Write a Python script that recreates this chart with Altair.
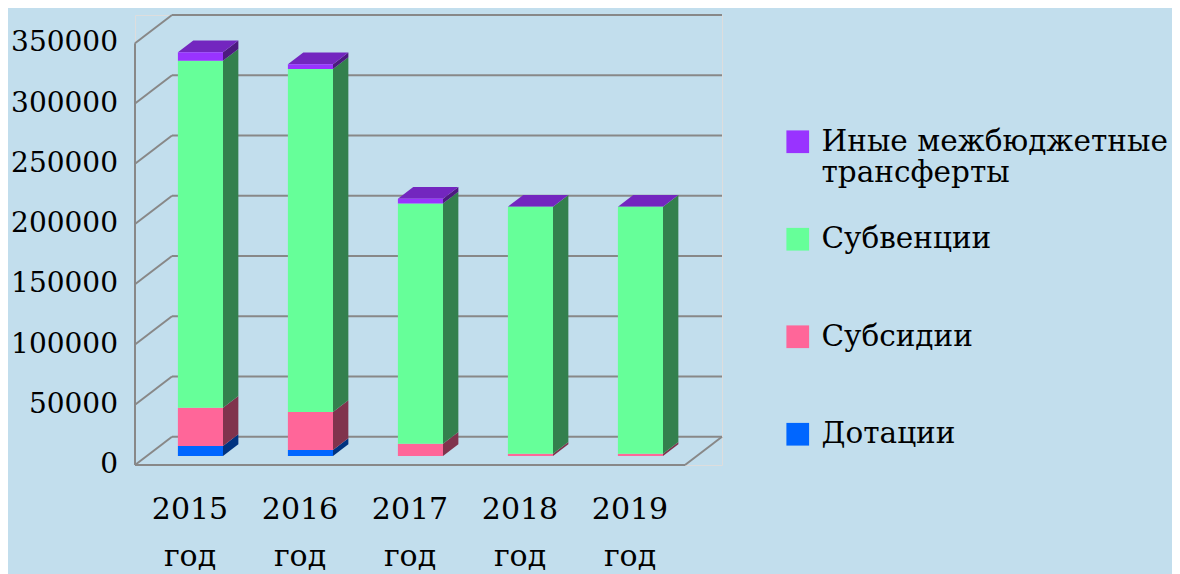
import altair as alt
import pandas as pd

# ---------------- data ----------------
years = ["2015", "2016", "2017", "2018", "2019"]
year_word = "год"
series = ["Иные межбюджетные трансферты", "Субвенции", "Субсидии", "Дотации"]
dotacii = [8300, 5000, 0, 0, 0]
subsidii = [31800, 31500, 10200, 1900, 1900]
subvencii = [288000, 284700, 199300, 205000, 205000]
inye = [7000, 3900, 3900, 0, 0]
y_ticks = [0, 50000, 100000, 150000, 200000, 250000, 300000, 350000]

# ---------------- style ----------------
front_colors = ["#9933FF", "#66FF99", "#FF6699", "#0066FF"]
side_colors = ["#4D1A80", "#33804D", "#80334D", "#003380"]
top_color = "#7326BF"
grid_color = "#888888"
FONT = "DejaVu Serif"

SLOT_PX = 110
DEPTH_X = 37 / SLOT_PX      # depth of the 3D box in slot units
DEPTH_Y = 23500             # depth of the 3D box in value units
FRONT_F = 0.32              # bar front face depth (fraction of box depth)
BAR_B = 0.415               # bar depth (fraction of box depth)
BAR_L, BAR_R = 0.39, 0.80   # bar front face within its slot
N = len(years)
X_MAX = N + DEPTH_X
Y_MAX = y_ticks[-1] + DEPTH_Y
W = round(X_MAX * SLOT_PX)
H = 450

xs = alt.Scale(domain=[0, X_MAX], nice=False, zero=False)
ys = alt.Scale(domain=[0, Y_MAX], nice=False, zero=False)

stack_order = [("Дотации", dotacii), ("Субсидии", subsidii),
               ("Субвенции", subvencii), ("Иные межбюджетные трансферты", inye)]
base = FRONT_F * DEPTH_Y
bdx = BAR_B * DEPTH_X
bdy = BAR_B * DEPTH_Y

front_rows, side_rows, top_rows = [], [], []
for i, yr in enumerate(years):
    cum = 0
    x0, x1 = i + BAR_L, i + BAR_R
    for name, vals in stack_order:
        v = vals[i]
        y0 = base + cum
        y1 = y0 + v
        cum += v
        if v <= 0:
            continue
        front_rows.append(dict(year=yr, series=name, x=x0, x2=x1, y=y0, y2=y1))
        sid = f"{yr}-{name}"
        c = side_colors[series.index(name)]
        side_rows.append(dict(id=sid, col=c, x=x1, y=y0, y2=y1))
        side_rows.append(dict(id=sid, col=c, x=x1 + bdx, y=y0 + bdy, y2=y1 + bdy))
    T = base + cum
    top_rows += [
        dict(id=yr, x=x0, y=T, y2=T),
        dict(id=yr, x=x0 + bdx, y=T, y2=T + bdy),
        dict(id=yr, x=x1, y=T, y2=T + bdy),
        dict(id=yr, x=x1 + bdx, y=T + bdy, y2=T + bdy),
    ]

line_rows = []
for v in y_ticks:
    line_rows.append(dict(x=DEPTH_X, y=v + DEPTH_Y, x2=N + DEPTH_X, y2=v + DEPTH_Y))
    line_rows.append(dict(x=0, y=v, x2=DEPTH_X, y2=v + DEPTH_Y))
line_rows.append(dict(x=0, y=0, x2=0, y2=y_ticks[-1]))
line_rows.append(dict(x=0, y=0, x2=N, y2=0))
line_rows.append(dict(x=N, y=0, x2=N + DEPTH_X, y2=DEPTH_Y))

label_rows = [dict(x=i + 0.5, y=0, label=f"{yr}\n{year_word}") for i, yr in enumerate(years)]
ylab_rows = [dict(x=0, y=v, label=str(v)) for v in y_ticks]

front_df = pd.DataFrame(front_rows)
side_df = pd.DataFrame(side_rows)
top_df = pd.DataFrame(top_rows)
line_df = pd.DataFrame(line_rows)
label_df = pd.DataFrame(label_rows)
ylab_df = pd.DataFrame(ylab_rows)

# ---------------- layers ----------------
lines = alt.Chart(line_df).mark_rule(color=grid_color, strokeWidth=2).encode(
    x=alt.X("x:Q", scale=xs,
            axis=alt.Axis(values=list(range(N + 1)), labels=False, domain=False, grid=False,
                          ticks=True, tickSize=8, tickColor=grid_color, tickWidth=2, title=None)),
    x2="x2:Q",
    y=alt.Y("y:Q", scale=ys,
            axis=alt.Axis(values=y_ticks, labels=False, domain=False, grid=False, ticks=True,
                          tickSize=8, tickColor=grid_color, tickWidth=2, title=None)),
    y2="y2:Q",
)

sides = alt.Chart(side_df).mark_area(opacity=1, interpolate="linear").encode(
    x=alt.X("x:Q", scale=xs, axis=None),
    y=alt.Y("y:Q", scale=ys, axis=None, stack=None),
    y2="y2:Q",
    detail="id:N",
    color=alt.Color("col:N", scale=None),
)

tops = alt.Chart(top_df).mark_area(opacity=1, interpolate="linear", color=top_color).encode(
    x=alt.X("x:Q", scale=xs, axis=None),
    y=alt.Y("y:Q", scale=ys, axis=None, stack=None),
    y2="y2:Q",
    detail="id:N",
)

fronts = alt.Chart(front_df).mark_rect(opacity=1).encode(
    x=alt.X("x:Q", scale=xs, axis=None),
    x2="x2:Q",
    y=alt.Y("y:Q", scale=ys, axis=None),
    y2="y2:Q",
    color=alt.Color(
        "series:N",
        scale=alt.Scale(domain=series, range=front_colors),
        legend=alt.Legend(
            title=None, orient="none", legendX=648, legendY=112,
            symbolType="square", symbolSize=515, symbolStrokeWidth=0,
            labelFont=FONT, labelFontSize=29.5, labelColor="black",
            labelOffset=9, labelLimit=600, gridAlign="all", rowPadding=35.5, padding=0,
            labelExpr="datum.label == 'Иные межбюджетные трансферты' ? ['Иные межбюджетные', 'трансферты'] : datum.label",
        ),
    ),
)

xlabels = alt.Chart(label_df).mark_text(
    font=FONT, fontSize=30, color="black", lineBreak="\n", lineHeight=47,
    baseline="alphabetic", align="center", dy=54,
).encode(
    x=alt.X("x:Q", scale=xs, axis=None),
    y=alt.Y("y:Q", scale=ys, axis=None),
    text="label:N",
)

ylabels = alt.Chart(ylab_df).mark_text(
    font=FONT, fontSize=28, color="black", baseline="middle", align="right", dx=-17,
).encode(
    x=alt.X("x:Q", scale=xs, axis=None),
    y=alt.Y("y:Q", scale=ys, axis=None),
    text="label:N",
)

chart = alt.layer(lines, sides, tops, fronts, xlabels, ylabels).properties(
    width=W, height=H,
    autosize=alt.AutoSizeParams(type="none"),
    padding={"left": 127, "top": 7, "right": 1164 - 127 - W, "bottom": 574 - 7 - H},
).configure_view(stroke=None).configure(background="#c2deed")

chart.save("out.html", embed_options={"renderer": "svg", "actions": False})
